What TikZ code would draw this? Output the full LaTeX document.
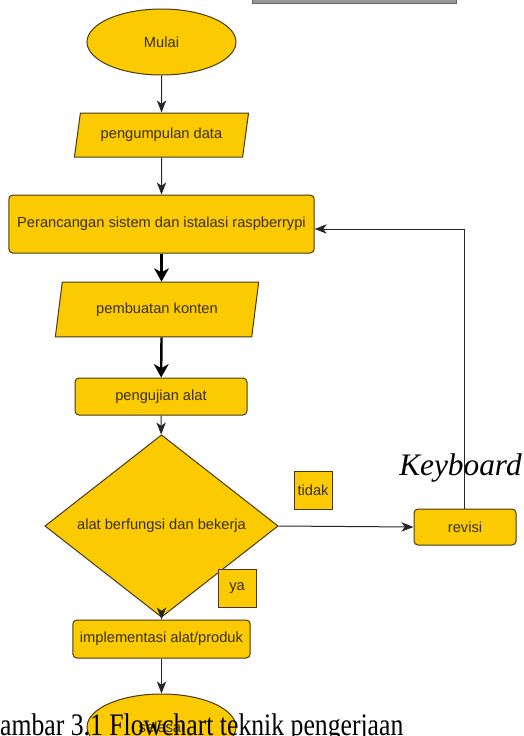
\documentclass[tikz,border=0pt]{standalone}
\usepackage{fontspec}
\setmainfont{Liberation Serif}
\setsansfont{Liberation Sans}
\usetikzlibrary{shapes.geometric, arrows.meta}
\definecolor{kuning}{RGB}{252,202,0}
\definecolor{garis}{RGB}{72,58,22}
\definecolor{teks}{RGB}{58,48,28}
\definecolor{abu}{RGB}{150,150,150}

\begin{document}
\begin{tikzpicture}[x=0.75pt, y=-0.75pt,
  panah/.style={-{Stealth[length=9pt,width=7pt,inset=2.5pt]}, line width=0.75pt, black!85},
  panahtebal/.style={-{Stealth[length=10pt,width=11pt,inset=3pt]}, line width=1.8pt, black},
  kotak/.style={draw=garis, fill=kuning, text=teks, line width=0.75pt, inner sep=0pt,
    font=\sffamily\fontsize{11}{13}\selectfont},
  proses/.style={kotak, rectangle, rounded corners=3pt},
  terminal/.style={kotak, ellipse, minimum width=111.75pt, minimum height=49.5pt},
  masukan/.style={kotak, trapezium, trapezium left angle=72, trapezium right angle=108,
    trapezium stretches=true},
  keputusan/.style={kotak, diamond, minimum width=175pt, minimum height=100.5pt},
  ket/.style={kotak, rectangle, minimum width=28.5pt, minimum height=28.5pt}]

\useasboundingbox (0,0) rectangle (524,736);
\clip (0,0) rectangle (524,736);

% Bar at the top
\draw[draw=black!60, fill=abu] (252,-10) rectangle (456,3);

% Nodes
\node[terminal] (mulai) at (161.5,42) {Mulai};
\node[masukan, minimum width=131pt, minimum height=33pt] (data) at (161.5,135) {pengumpulan data};
\node[proses, minimum width=229pt, minimum height=43.5pt] (rancang) at (161.5,224) {Perancangan sistem dan istalasi raspberrypi};
\node[masukan, minimum width=153pt, minimum height=41pt] (konten) at (157,309.5) {pembuatan konten};
\node[proses, minimum width=129pt, minimum height=27.75pt] (uji) at (161,396.5) {pengujian alat};
\node[keputusan] (cek) at (161.5,526) {alat berfungsi dan bekerja};
\node[ket] (tidak) at (313,490) {tidak};
\node[ket] (ya) at (237,588) {ya};
\node[proses, minimum width=76.5pt, minimum height=27pt] (revisi) at (465,527) {revisi};
\node[proses, minimum width=133pt, minimum height=28.5pt] (impl) at (161.5,639) {implementasi alat/produk};
\node[terminal] (selesai) at (161.5,727) {selesai};

% Text
\node[font=\itshape\fontsize{23.5}{26}\selectfont, anchor=base west, inner sep=0pt] (kb) at (399,475) {Keyboard};

% Arrows
\draw[panah] (mulai) -- (data);
\draw[panah] (data) -- (rancang);
\draw[panahtebal] (rancang) -- (konten.north -| rancang.south);
\draw[panahtebal] (konten.south -| rancang.south) -- (uji);
\draw[panah] (uji) -- (cek);
\draw[panah] (cek) -- (impl);
\draw[panah] (impl) -- (selesai);
\draw[panah] (cek.east) -- (revisi.west);
\draw[panah] ([xshift=-0.75pt]revisi.north) |- ([yshift=-3.75pt]rancang.east);

% Caption
\node[font=\fontsize{23.5}{26}\selectfont, anchor=base west, inner sep=0pt, xscale=0.82] (judul) at (0,735) {ambar 3.1 Flowchart teknik pengerjaan};
\end{tikzpicture}
\end{document}
